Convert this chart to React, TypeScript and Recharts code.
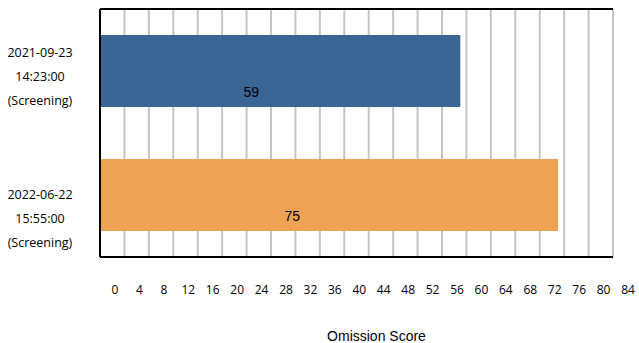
import React from 'react';
import { BarChart, Bar, XAxis, YAxis, CartesianGrid, LabelList, Cell, ReferenceLine } from 'recharts';

// Visits shown on the vertical axis, one bar each
const visitDates = ['2021-09-23', '2022-06-22'];
const visitTimes = ['14:23:00', '15:55:00'];
const visitTypes = ['(Screening)', '(Screening)'];
const omissionScores = [59, 75];
const barColors = ['#3A6595', '#EEA354'];
const xTicks = [0, 4, 8, 12, 16, 20, 24, 28, 32, 36, 40, 44, 48, 52, 56, 60, 64, 68, 72, 76, 80, 84];
const xMax = 84;

const data = visitDates.map((d, i) => ({
  visit: `${d} ${visitTimes[i]} ${visitTypes[i]}`,
  score: omissionScores[i],
  idx: i,
}));

// first-line offset for each category's three-line label
const labelLineStart = [-19, -1];

const VisitTick = (props: any) => {
  const { y, index } = props;
  const i = index ?? 0;
  const lines = [visitDates[i], visitTimes[i], visitTypes[i]];
  const start = labelLineStart[i] ?? -19;
  return (
    <g>
      {lines.map((t, k) => (
        <text
          key={k}
          x={40}
          y={y + start + k * 24 + 4.5}
          textAnchor="middle"
          fontFamily="'Open Sans', sans-serif"
          fontSize={12.5}
          fill="#000"
        >
          {t}
        </text>
      ))}
    </g>
  );
};

const ScoreTick = (props: any) => {
  const { x, y, payload } = props;
  return (
    <text
      x={x + 15}
      y={y + 29}
      textAnchor="middle"
      fontFamily="'Open Sans', sans-serif"
      fontSize={12}
      fill="#000"
    >
      {payload.value}
    </text>
  );
};

const BarValue = (props: any) => {
  const { x, y, width, height, value } = props;
  return (
    <text
      x={x + width * 0.42}
      y={y + height - 15 + 5}
      textAnchor="middle"
      fontFamily="'Liberation Sans', Arial, sans-serif"
      fontSize={14}
      fill="#000"
    >
      {value}
    </text>
  );
};

export default function App() {
  return (
    <div style={{ position: 'absolute', left: 0, top: 0, width: 639, height: 343, background: '#fff' }}>
      <BarChart
        width={639}
        height={343}
        data={data}
        layout="vertical"
        margin={{ top: 8, right: 26, left: 0, bottom: 0 }}
        barCategoryGap={26}
      >
        <CartesianGrid
          horizontal={false}
          vertical={true}
          stroke="#C4C4C4"
          strokeWidth={2}
          xAxisId="bottom"
        />
        <ReferenceLine xAxisId="bottom" x={xMax} stroke="#C4C4C4" strokeWidth={2} />
        <XAxis
          xAxisId="bottom"
          type="number"
          domain={[0, xMax]}
          ticks={xTicks}
          interval={0}
          height={86}
          axisLine={{ stroke: '#000', strokeWidth: 2 }}
          tickLine={false}
          tick={<ScoreTick />}
          label={{
            value: 'Omission Score',
            position: 'insideBottom',
            offset: 2,
            dx: 20,
            style: { fontFamily: "'Liberation Sans', Arial, sans-serif", fontSize: 14, fill: '#000' },
          }}
        />
        <XAxis
          xAxisId="top"
          orientation="top"
          type="number"
          domain={[0, xMax]}
          height={1}
          axisLine={{ stroke: '#000', strokeWidth: 2 }}
          tickLine={false}
          tick={false}
        />
        <YAxis
          type="category"
          dataKey="visit"
          width={100}
          axisLine={{ stroke: '#000', strokeWidth: 2 }}
          tickLine={false}
          tick={<VisitTick />}
          interval={0}
        />
        <Bar dataKey="score" xAxisId="bottom" isAnimationActive={false}>
          {data.map((d, i) => (
            <Cell key={i} fill={barColors[i]} />
          ))}
          <LabelList dataKey="score" content={<BarValue />} />
        </Bar>
      </BarChart>
    </div>
  );
}
